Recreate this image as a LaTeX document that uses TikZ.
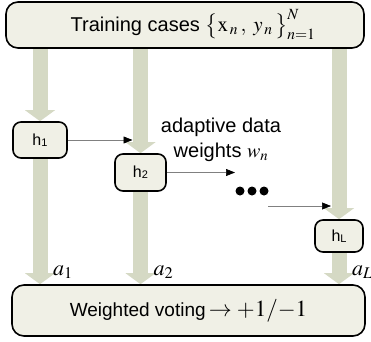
\documentclass[tikz,border=0pt]{standalone}
\usepackage{mathptmx}
\usepackage[no-math]{fontspec}
\setmainfont{Liberation Sans}
\usetikzlibrary{positioning, arrows.meta, backgrounds}

\definecolor{boxfill}{HTML}{F0F0E6}
\definecolor{barfill}{HTML}{D5D9C4}

% small index after the h of each learner
\newcommand{\hsub}[1]{\raisebox{-1pt}{\fontsize{11}{11}\selectfont #1}}
% formulas are set larger than the words beside them
\newcommand{\bigmath}[2][23]{{\fontsize{#1}{#1}\selectfont$#2$}}

\begin{document}
\begin{tikzpicture}[x=1pt, y=-1pt, every node/.style={inner sep=0pt},
    bigbox/.style={draw, line width=1.6pt, rounded corners=12pt, fill=boxfill},
    hbox/.style={draw, line width=1.6pt, rounded corners=8pt, fill=boxfill, font=\fontsize{16}{16}\selectfont},
    flow/.style={draw=barfill, line width=15pt, -{Triangle[width=30pt, length=11pt, line width=0pt]}},
    pass/.style={draw=gray, line width=0.6pt, -{Triangle[length=9pt, width=7pt, black]}},
    alabel/.style={anchor=base west, font=\fontsize{22}{22}\selectfont}]
    \useasboundingbox (0,0) rectangle (371,341);

    % Input and output
    \node[bigbox, minimum width=358pt, minimum height=46pt, font=\fontsize{20}{20}\selectfont] (train) at (185,25)
        {\hspace*{16pt}Training cases \bigmath[21]{\big\{\mathrm{x}_{\,n}\,,\;y_{\,n}\,\big\}_{n=1}^{N}}};
    \node[bigbox, minimum width=353pt, minimum height=51pt, font=\fontsize{19}{19}\selectfont] (vote) at (188.5,310.5)
        {Weighted voting\,\bigmath{\rightarrow +1/{-1}}};

    % Base learners
    \node[hbox, minimum width=54pt, minimum height=36pt] (h1) at (40,140) {h\hsub{1}};
    \node[hbox, minimum width=51pt, minimum height=37pt] (h2) at (140.5,172.5) {h\hsub{2}};
    \node[hbox, minimum width=48pt, minimum height=32pt] (hL) at (339,236) {h\hsub{L}};

    % Data flow
    \begin{scope}[on background layer]
        \draw[flow] (train.south -| h1) -- (h1.north);
        \draw[flow] (h1.south) -- (vote.north -| h1);
        \draw[flow] (train.south -| h2) -- (h2.north);
        \draw[flow] (h2.south) -- (vote.north -| h2);
        \draw[flow] (train.south -| hL) -- (hL.north);
        \draw[flow] (hL.south) -- (vote.north -| hL);
    \end{scope}

    % Weights passed on
    \node[align=center, font=\fontsize{20}{25}\selectfont] (adapt) at (221,140) {adaptive data\\weights $w_n$};
    \coordinate (w1) at ([xshift=-8pt]h2.north |- h1.east);
    \coordinate (w2) at (235,172.5);
    \coordinate (w3) at (268,206);
    \coordinate (w4) at ([xshift=-8pt]hL.north |- w3);
    \draw[pass] (h1.east) -- (w1);
    \draw[pass] (h2.east) -- (w2);
    \draw[pass] (w3) -- (w4);
    \node (dots) at (252,191) {};
    \foreach \dx in {-12,0,12}
        \fill ([xshift=\dx pt]dots) circle (4.5pt);

    % Voting weights
    \node[alabel] (a1) at ([shift={(13,-9)}]vote.north -| h1) {$a_1$};
    \node[alabel] (a2) at ([shift={(13,-9)}]vote.north -| h2) {$a_2$};
    \node[alabel] (aL) at ([shift={(13,-9)}]vote.north -| hL) {$a_L$};
\end{tikzpicture}
\end{document}
